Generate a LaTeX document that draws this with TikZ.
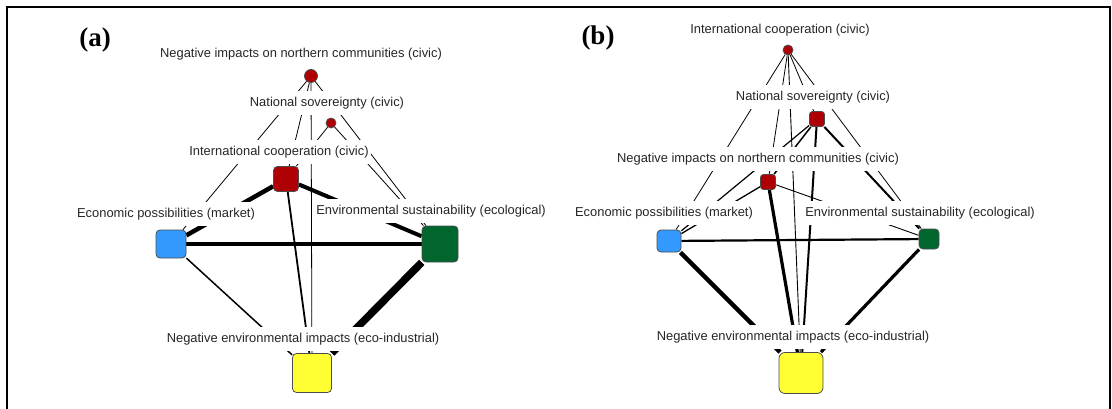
\documentclass[tikz,border=0pt]{standalone}
\usepackage{fontspec}
\setmainfont{Liberation Serif}
\newfontfamily\lab{Liberation Sans}
\usetikzlibrary{backgrounds}
\definecolor{redn}{RGB}{175,0,5}
\definecolor{bluen}{RGB}{51,153,255}
\definecolor{greenn}{RGB}{0,102,45}
\definecolor{yellown}{RGB}{255,255,51}
\begin{document}
\begin{tikzpicture}[x=1pt,y=-1pt,
  lbl/.style={fill=white, inner xsep=2pt, inner ysep=5.5pt, text height=9.5pt, text depth=3pt,
    font=\lab\fontsize{12.9}{14}\selectfont, text=black!85},
  nbox/.style={draw=black!70, line width=0.8pt, rounded corners=4pt, inner sep=0pt},
  ncirc/.style={draw=black!70, line width=0.8pt, circle, inner sep=0pt, fill=redn},
  panel/.style={font=\bfseries\fontsize{27}{30}\selectfont},
  w/.style={line width=#1pt}
]
\useasboundingbox (0,0) rectangle (1112,409);
\draw[line width=2pt] (7,409) -- (7,7) -- (1110,7) -- (1110,409);

% ---------- panel (a) ----------
\node[panel] (pa) at (95,40) {(a)};
\node[lbl] (NINCal) at (301,54) {Negative impacts on northern communities (civic)};
\node[lbl] (NSal) at (327,103) {National sovereignty (civic)};
\node[lbl] (ICal) at (279,152) {International cooperation (civic)};
\node[lbl] (EPal) at (166,214) {Economic possibilities (market)};
\node[lbl] (ESal) at (431,211) {Environmental sustainability (ecological)};
\node[lbl] (NEIal) at (303,339) {Negative environmental impacts (eco-industrial)};

\node[ncirc, minimum size=13pt] (NINCa) at (311,76) {};
\node[ncirc, minimum size=10pt] (NSa) at (331,123) {};
\node[nbox, fill=redn, minimum width=25pt, minimum height=25pt] (ICa) at (286,179) {};
\node[nbox, fill=bluen, minimum width=30pt, minimum height=28pt] (EPa) at (171,244) {};
\node[nbox, fill=greenn, minimum width=36pt, minimum height=36pt] (ESa) at (440,244) {};
\node[nbox, fill=yellown, minimum width=39pt, minimum height=39pt] (NEIa) at (312,373) {};

% ---------- panel (b) ----------
\node[panel] (pb) at (598,38) {(b)};
\node[lbl] (ICbl) at (780,30) {International cooperation (civic)};
\node[lbl] (NSbl) at (813,97) {National sovereignty (civic)};
\node[lbl] (NINCbl) at (758,159) {Negative impacts on northern communities (civic)};
\node[lbl] (EPbl) at (664,213) {Economic possibilities (market)};
\node[lbl] (ESbl) at (920,213) {Environmental sustainability (ecological)};
\node[lbl] (NEIbl) at (793,337) {Negative environmental impacts (eco-industrial)};

\node[ncirc, minimum size=10pt] (ICb) at (788,50) {};
\node[nbox, fill=redn, rounded corners=3pt, minimum width=15pt, minimum height=15pt] (NSb) at (817,119) {};
\node[nbox, fill=redn, rounded corners=3pt, minimum width=15pt, minimum height=15pt] (NINCb) at (768,182) {};
\node[nbox, fill=bluen, minimum width=24pt, minimum height=22pt] (EPb) at (669,241) {};
\node[nbox, fill=greenn, minimum width=20pt, minimum height=20pt] (ESb) at (929,239) {};
\node[nbox, fill=yellown, rounded corners=6pt, minimum width=44pt, minimum height=41pt] (NEIb) at (801,373) {};

\begin{scope}[on background layer]
  % (a)
  \draw[w=0.8] (NINCa) -- (EPa);
  \draw[w=0.8] (NINCa) -- (ICa);
  \draw[w=0.8] (NINCa) -- (NEIa);
  \draw[w=0.8] (NINCa) -- (ESa);
  \draw[w=0.8] (NSa) -- (ICa);
  \draw[w=0.8] (NSa) -- (ESa);
  \draw[w=4.5] (ICa) -- (EPa);
  \draw[w=4] (ICa) -- (ESa);
  \draw[w=1.8] (ICa) -- (NEIa);
  \draw[w=4] (EPa) -- (ESa);
  \draw[w=1.5] (EPa) -- (NEIa);
  \draw[w=7.5] (ESa) -- (NEIa);
  % (b)
  \draw[w=0.8] (ICb) -- (EPb);
  \draw[w=0.8] (ICb) -- (NINCb);
  \draw[w=0.9] (ICb) -- (NEIb);
  \draw[w=0.8] (ICb) -- (NSb);
  \draw[w=0.8] (ICb) -- (ESb);
  \draw[w=1.2] (NSb) -- (EPb);
  \draw[w=1.5] (NSb) -- (NINCb);
  \draw[w=2] (NSb) -- (NEIb);
  \draw[w=2] (NSb) -- (ESb);
  \draw[w=1.3] (NINCb) -- (EPb);
  \draw[w=0.9] (NINCb) -- (ESb);
  \draw[w=3.2] (NINCb) -- (NEIb);
  \draw[w=2.2] (EPb) -- (ESb);
  \draw[w=4.5] (EPb) -- (NEIb);
  \draw[w=3.2] (ESb) -- (NEIb);
\end{scope}
\end{tikzpicture}
\end{document}
